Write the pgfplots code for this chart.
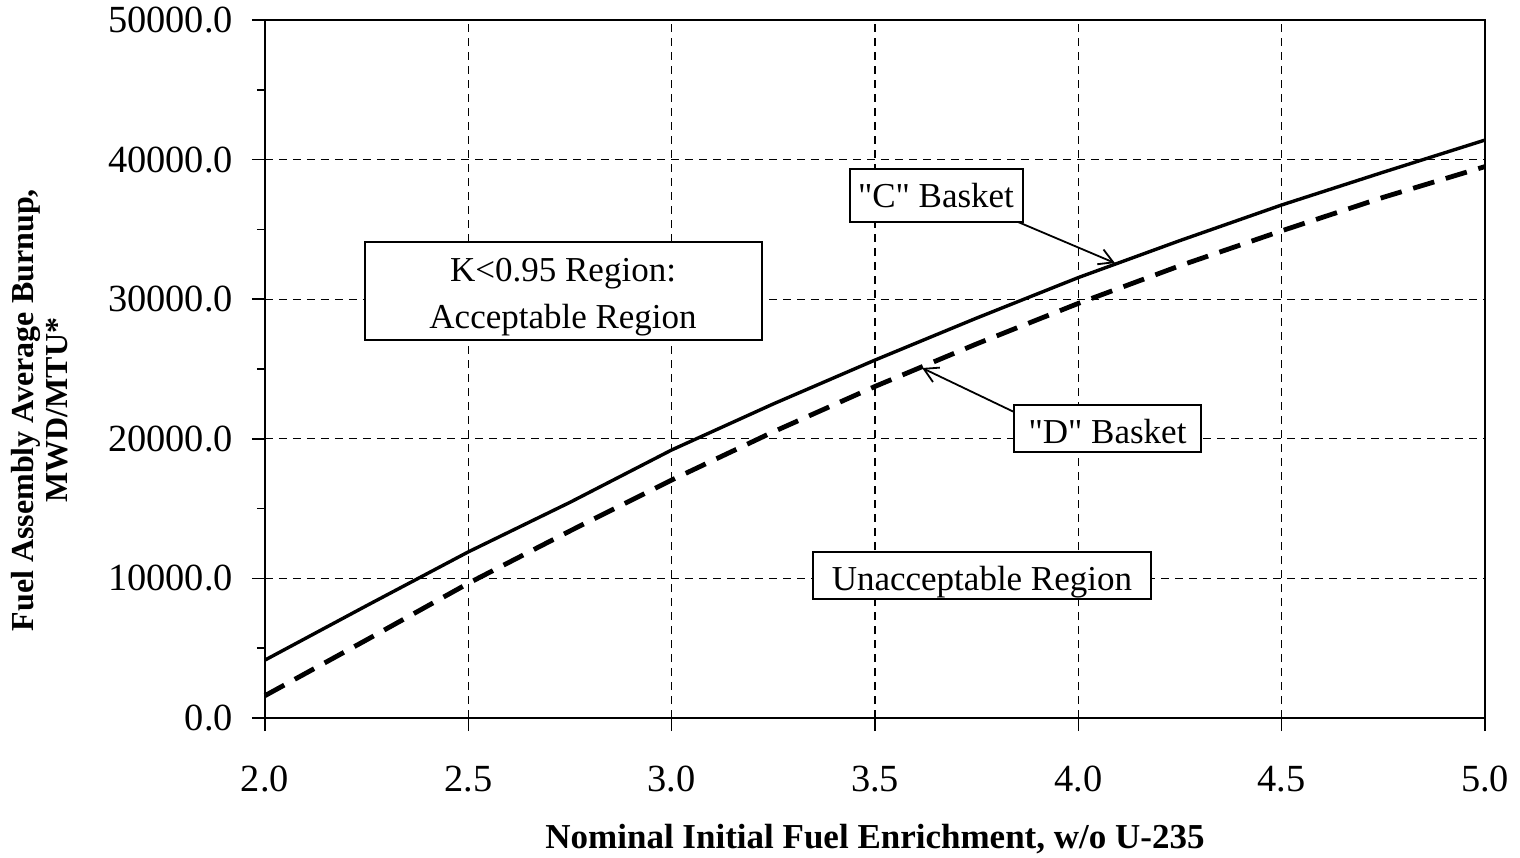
\documentclass[border=0pt]{standalone}
\usepackage{fontspec}
\setmainfont{Liberation Serif}
\usepackage{pgfplots}
\pgfplotsset{compat=1.18}
\usetikzlibrary{arrows.meta}
\begin{document}
\begin{tikzpicture}
\useasboundingbox (-132.5bp,-70bp) rectangle (627.5bp,359bp);
\begin{axis}[
  at={(0,0)}, anchor=south west,
  scale only axis, width=610bp, height=349bp,
  xmin=2, xmax=5, ymin=0, ymax=50000,
  xtick={2,2.5,3,3.5,4,4.5,5}, ytick={0,10000,20000,30000,40000,50000},
  minor ytick={5000,15000,25000,35000,45000},
  tick align=outside, tick pos=left,
  major tick length=6.5bp, minor tick length=4bp,
  every tick/.style={black, solid, line width=0.8bp},
  axis line style={line width=1.2bp},
  xmajorgrids, ymajorgrids,
  major grid style={black, line width=0.6bp, dash pattern=on 4bp off 3bp},
  /pgf/number format/.cd, fixed, fixed zerofill, precision=1, 1000 sep={}, assume math mode=true,
  /pgfplots/.cd,
  tick label style={font=\fontsize{19.2bp}{22bp}\selectfont},
  xticklabel style={yshift=-14bp},
  yticklabel style={xshift=-6bp},
  scaled ticks=false,
  xlabel={Nominal Initial Fuel Enrichment, w/o U-235},
  ylabel={Fuel Assembly Average Burnup,\\MWD/MTU*},
  xlabel style={at={(axis description cs:0.5,-0.174)}, anchor=center, font=\bfseries\fontsize{17.5bp}{18bp}\selectfont},
  ylabel style={at={(axis description cs:-0.1844,0.441)}, anchor=center, align=center, font=\bfseries\fontsize{16bp}{17bp}\selectfont},
  clip=false,
]
\addplot[black, line width=1.7bp] coordinates {
 (2.0,4150) (2.25,8050) (2.5,11900) (2.75,15450) (3.0,19200) (3.25,22500)
 (3.5,25640) (3.75,28650) (4.0,31550) (4.25,34200) (4.5,36750) (4.75,39100) (5.0,41400)};
\addplot[black, line width=2.4bp, dash pattern=on 11bp off 6bp] coordinates {
 (2.0,1600) (2.25,5600) (2.5,9650) (2.75,13400) (3.0,17050) (3.25,20500)
 (3.5,23750) (3.75,26800) (4.0,29700) (4.25,32400) (4.5,34900) (4.75,37300) (5.0,39500)};
\draw[line width=0.9bp, -{Straight Barb[length=7bp,width=8bp]}] (axis cs:3.80,36170) -- (axis cs:4.09,32590);
\draw[line width=0.9bp, -{Straight Barb[length=7bp,width=8bp]}] (axis cs:3.842,21920) -- (axis cs:3.616,25070);
\node[draw, line width=1bp, fill=white, inner sep=0pt, minimum width=198.5bp, minimum height=49bp] at (axis cs:2.733,30590) {};
\node[align=center, inner sep=0pt, yshift=-3bp, font=\fontsize{17.5bp}{23.5bp}\selectfont] at (axis cs:2.733,30590) {K<0.95 Region:\\Acceptable Region};
\node[draw, line width=1bp, fill=white, inner sep=0pt, minimum width=86.5bp, minimum height=26.5bp,
  font=\fontsize{17.5bp}{22bp}\selectfont] at (axis cs:3.650,37460) {\textquotedbl C\textquotedbl\ Basket};
\node[draw, line width=1bp, fill=white, inner sep=0pt, minimum width=93.5bp, minimum height=23.5bp] at (axis cs:4.072,20740) {};
\node[inner sep=0pt, yshift=-1.5bp, font=\fontsize{17.5bp}{22bp}\selectfont] at (axis cs:4.072,20740) {\textquotedbl D\textquotedbl\ Basket};
\node[draw, line width=1bp, fill=white, inner sep=0pt, minimum width=169bp, minimum height=23.5bp] at (axis cs:3.763,10210) {};
\node[inner sep=0pt, yshift=-3.5bp, font=\fontsize{17.5bp}{22bp}\selectfont] at (axis cs:3.763,10210) {Unacceptable Region};
\end{axis}
\begin{axis}[
  at={(0,0)}, anchor=south west,
  scale only axis, width=610bp, height=349bp,
  xmin=2, xmax=5, ymin=0, ymax=50000,
  xtick=\empty, ytick=\empty,
  minor xtick={2,2.5,3,3.5,4,4.5,5}, minor ytick={0,10000,20000,30000,40000,50000},
  tick align=outside, tick pos=left,
  minor tick length=6.5bp,
  every tick/.style={black, solid, line width=0.8bp},
  axis line style={line width=1.2bp},
]
\end{axis}
\end{tikzpicture}
\end{document}
